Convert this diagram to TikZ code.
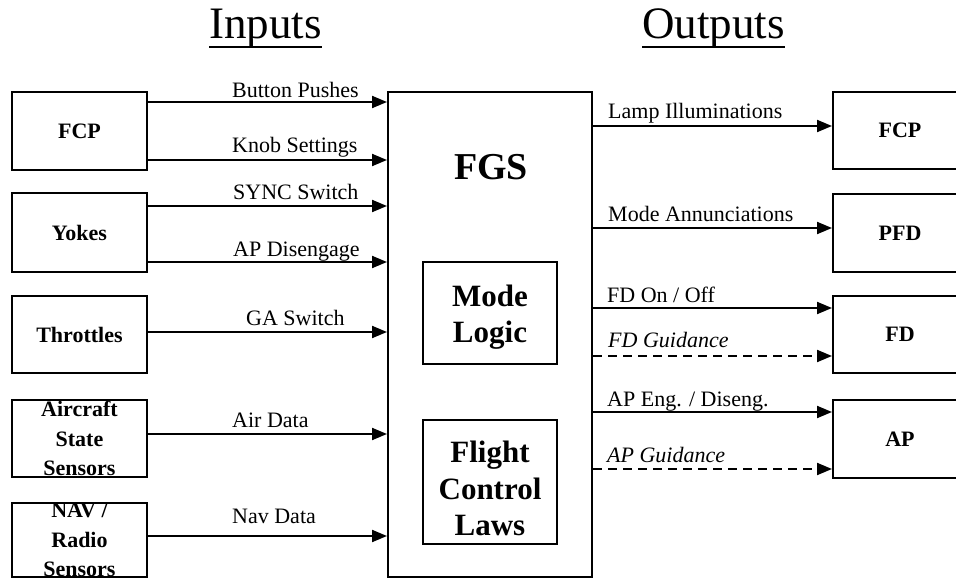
\documentclass[tikz,border=0pt]{standalone}
\usepackage{fontspec}
\setmainfont{Liberation Serif}
\usetikzlibrary{arrows.meta}
\begin{document}
\begin{tikzpicture}[x=1pt,y=-1pt,
  box/.style={draw, line width=2pt, inner sep=0pt, align=center,
    font=\fontsize{22}{29.5}\selectfont\bfseries},
  inbox/.style={draw, line width=2pt, inner sep=0pt},
  big/.style={inner sep=0pt, align=center, font=\fontsize{31}{36.5}\selectfont\bfseries},
  lbl/.style={inner sep=0pt, anchor=base west, font=\fontsize{22}{26}\selectfont},
  ilbl/.style={lbl, font=\fontsize{22}{26}\selectfont\itshape},
  ttl/.style={inner sep=0pt, anchor=base west, font=\fontsize{45}{50}\selectfont},
  arr/.style={line width=2pt, -{Triangle[length=15pt,width=12pt]}},
  darr/.style={arr, dash pattern=on 9pt off 6pt},
  uline/.style={line width=2.5pt}]
\useasboundingbox (0,0) rectangle (956,580);

% titles
\node[ttl] (tin) at (209,39) {Inputs};
\node[ttl] (tout) at (642,39) {Outputs};
\draw[uline] ([yshift=-8pt]tin.base west) -- ([yshift=-8pt]tin.base east);
\draw[uline] ([yshift=-8pt]tout.base west) -- ([yshift=-8pt]tout.base east);

% left boxes
\node[box, minimum width=135pt, minimum height=78pt] (fcpL) at (79.5,131) {FCP};
\node[box, minimum width=135pt, minimum height=79pt] (yok) at (79.5,232.5) {Yokes};
\node[box, minimum width=135pt, minimum height=77pt] (thr) at (79.5,334.5) {Throttles};
\node[box, minimum width=135pt, minimum height=77pt] (acs) at (79.5,438.5) {Aircraft\\State\\Sensors};
\node[box, minimum width=135pt, minimum height=74pt] (nav) at (79.5,540) {NAV /\\Radio\\Sensors};

% FGS
\node[inbox, minimum width=204pt, minimum height=485pt] (fgs) at (490,334.5) {};
\node[inner sep=0pt, anchor=base, font=\fontsize{38}{42}\selectfont\bfseries] (fgst) at (491,180) {FGS};
\node[inbox, minimum width=134pt, minimum height=102pt] (ml) at (490,313) {};
\node[big] (mlt) at (490,317.3) {Mode\\Logic};
\node[inbox, minimum width=134pt, minimum height=124pt] (fcl) at (490,482) {};
\node[big] (fclt) at (490,488.4) {Flight\\Control\\Laws};

% right boxes
\node[box, minimum width=134pt, minimum height=77pt] (fcpR) at (900,130.5) {FCP};
\node[box, minimum width=134pt, minimum height=78pt] (pfd) at (900,233) {PFD};
\node[box, minimum width=134pt, minimum height=77pt] (fd) at (900,334.5) {FD};
\node[box, minimum width=134pt, minimum height=78pt] (ap) at (900,439) {AP};

% input arrows
\draw[arr] (fcpL.east |- 0,102) -- (fgs.west |- 0,102);
\draw[arr] (fcpL.east |- 0,160) -- (fgs.west |- 0,160);
\draw[arr] (yok.east |- 0,206) -- (fgs.west |- 0,206);
\draw[arr] (yok.east |- 0,262) -- (fgs.west |- 0,262);
\draw[arr] (thr.east |- 0,332) -- (fgs.west |- 0,332);
\draw[arr] (acs.east |- 0,434) -- (fgs.west |- 0,434);
\draw[arr] (nav.east |- 0,536) -- (fgs.west |- 0,536);

\node[lbl] (l1) at (232,98) {Button Pushes};
\node[lbl] (l2) at (232,153) {Knob Settings};
\node[lbl] (l3) at (233,200) {SYNC Switch};
\node[lbl] (l4) at (233,257) {AP Disengage};
\node[lbl] (l5) at (246,325) {GA Switch};
\node[lbl] (l6) at (232,427) {Air Data};
\node[lbl] (l7) at (232,523) {Nav Data};

% output arrows
\draw[arr] (fgs.east |- 0,126) -- (fcpR.west |- 0,126);
\draw[arr] (fgs.east |- 0,228) -- (pfd.west |- 0,228);
\draw[arr] (fgs.east |- 0,308) -- (fd.west |- 0,308);
\draw[darr] (fgs.east |- 0,356) -- (fd.west |- 0,356);
\draw[arr] (fgs.east |- 0,412) -- (ap.west |- 0,412);
\draw[darr] (fgs.east |- 0,469) -- (ap.west |- 0,469);

\node[lbl] (r1) at (608,119) {Lamp Illuminations};
\node[lbl] (r2) at (608,222) {Mode Annunciations};
\node[lbl] (r3) at (607,302) {FD On / Off};
\node[ilbl] (r4) at (608,347) {FD Guidance};
\node[lbl] (r5) at (607,406) {AP Eng. / Diseng.};
\node[ilbl] (r6) at (607,462) {AP Guidance};
\end{tikzpicture}
\end{document}
